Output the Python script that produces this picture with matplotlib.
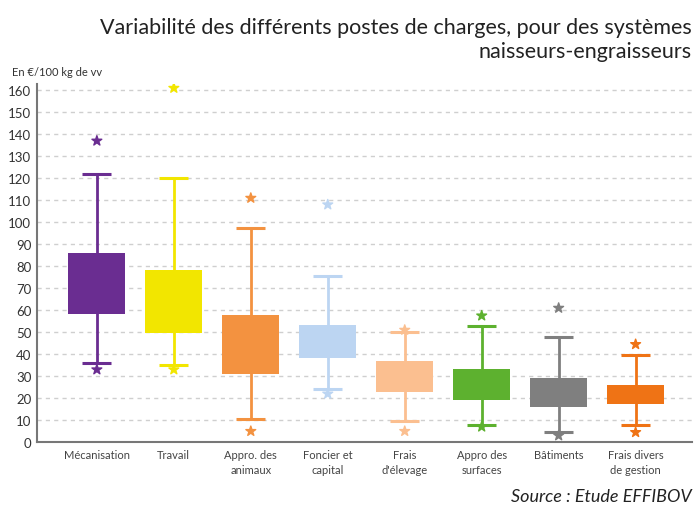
import numpy as np
import matplotlib.pyplot as plt

plt.rcParams['font.family'] = ['Lato', 'DejaVu Sans']

# postes de charges (en euros / 100 kg de vv)
categories = ["Mécanisation", "Travail", "Appro. des\nanimaux", "Foncier et\ncapital",
              "Frais\nd'élevage", "Appro des\nsurfaces", "Bâtiments", "Frais divers\nde gestion"]
star_low = [33, 33, 5, 22, 5, 7, 3, 4.5]
whisk_low = [36, 35, 10.5, 24, 9.5, 8, 4.5, 8]
q1 = [58.5, 49.5, 31, 38.5, 23, 19, 16, 17.5]
q3 = [86, 78.5, 58, 53.5, 37, 33.5, 29, 26]
whisk_high = [122, 120, 97.5, 75.5, 50, 53, 48, 39.5]
star_high = [137, 161, 111, 108, 51, 57.5, 61, 44.5]
colors = ["#6a2d91", "#f2e600", "#f39240", "#bcd5f2", "#fbbf90", "#5db12f", "#7f7f7f", "#ef7315"]

fig = plt.figure(figsize=(6.95, 5.10), dpi=100)
ax = fig.add_axes([0.053, 0.131, 0.9424, 0.703])

x = np.arange(len(categories))
for i in x:
    ax.vlines(i, whisk_low[i], whisk_high[i], color=colors[i], lw=2, zorder=2)
    ax.hlines([whisk_low[i], whisk_high[i]], i - 0.19, i + 0.19, color=colors[i], lw=2.2, zorder=2)
ax.bar(x, np.array(q3) - np.array(q1), bottom=q1, width=0.74, color=colors, zorder=3)
ax.scatter(x, star_low, marker='*', s=55, c=colors, zorder=4)
ax.scatter(x, star_high, marker='*', s=55, c=colors, zorder=4)

ax.set_xlim(-0.78, 7.73)
ax.set_ylim(0, 163)
ax.set_yticks(np.arange(0, 170, 10))
for v in range(10, 170, 10):
    ax.axhline(v, color='#cfcfcf', lw=1, ls=(0, (3, 3)), zorder=1)
ax.tick_params(axis='both', length=0, colors='#333333')
ax.tick_params(axis='y', pad=4, labelsize=9.5)
ax.tick_params(axis='x', pad=5)
ax.set_xticks(x)
ax.set_xticklabels(categories, fontsize=8, color='#444444', linespacing=1.45)
for s in ['top', 'right']:
    ax.spines[s].set_visible(False)
for s in ['left', 'bottom']:
    ax.spines[s].set_color('#777777')
    ax.spines[s].set_linewidth(1.5)

fig.text(0.995, 0.945, "Variabilité des différents postes de charges, pour des systèmes",
         ha='right', va='center', fontsize=15.5, color='#222222')
fig.text(0.995, 0.898, "naisseurs-engraisseurs", ha='right', va='center',
         fontsize=15.5, color='#222222')
fig.text(0.017, 0.858, "En €/100 kg de vv", ha='left', va='center', fontsize=8, color='#333333')
fig.text(0.995, 0.025, "Source : Etude EFFIBOV", ha='right', va='center',
         fontsize=13, style='italic', color='#222222')

fig.savefig("out.png", dpi=100)
